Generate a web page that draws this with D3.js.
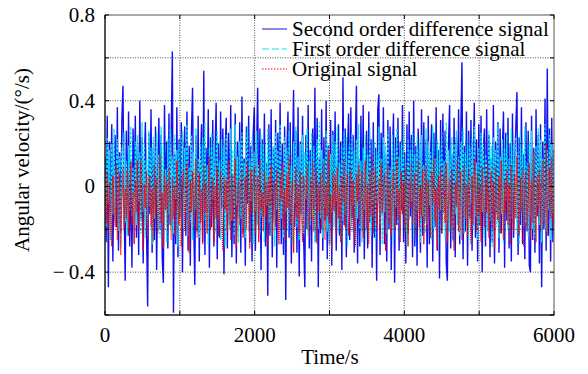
<!DOCTYPE html>
<html>
<head>
<meta charset="utf-8">
<script src="https://cdn.jsdelivr.net/npm/d3@7"></script>
<style>
  body { margin: 0; background: #fff; }
  text { font-family: "Liberation Serif", "Times New Roman", serif; fill: #000; }
</style>
</head>
<body>
<div id="chart"></div>
<script>
// sample spacing of the plotted series (s)
const step = 15;

const secondDiff = [
  0.14, -0.26, 0.33, -0.47, 0.21, -0.12, 0.29, -0.35, 0.08, 0.24, -0.19, 0.37, -0.30, 0.16, -0.22, 0.31, 0.47, -0.09, -0.44, 0.26,
  -0.17, 0.35, -0.28, 0.12, -0.38, 0.27, -0.06, 0.33, -0.24, 0.19, -0.32, 0.40, -0.15, 0.23, -0.36, 0.10, 0.30, -0.21, -0.56, 0.25,
  -0.13, 0.36, -0.31, 0.18, -0.25, 0.28, -0.39, 0.07, 0.32, -0.20, 0.24, -0.34, -0.45, 0.38, -0.11, 0.21, -0.29, 0.34, -0.18, 0.26,
  0.63, -0.59, 0.15, -0.27, 0.37, -0.33, 0.22, -0.14, 0.30, -0.40, 0.11, 0.28, -0.23, 0.35, -0.30, 0.19, -0.37, 0.25, 0.46, -0.16,
  -0.46, 0.24, -0.21, 0.33, -0.35, 0.09, 0.29, -0.26, 0.54, -0.32, 0.18, -0.12, 0.36, -0.38, 0.23, -0.19, 0.31, -0.28, 0.14, 0.39,
  -0.34, 0.20, -0.24, 0.35, -0.10, 0.27, -0.41, 0.17, 0.32, -0.29, 0.25, -0.18, 0.38, -0.33, 0.06, -0.27, 0.34, -0.36, 0.21, -0.15,
  0.30, -0.31, 0.42, -0.22, 0.13, -0.37, 0.28, -0.08, 0.33, -0.26, 0.19, -0.35, 0.24, 0.37, -0.30, 0.16, 0.46, -0.20, 0.27, -0.39,
  0.22, -0.14, 0.34, -0.28, 0.11, -0.51, 0.29, -0.23, 0.36, -0.33, 0.18, -0.17, 0.31, -0.38, 0.25, -0.09, 0.39, -0.27, 0.20, -0.32,
  0.28, -0.53, 0.15, 0.35, -0.24, 0.30, -0.36, 0.12, 0.45, -0.19, 0.26, -0.31, 0.37, -0.42, 0.21, -0.13, 0.33, -0.25, -0.47, 0.24,
  -0.20, 0.38, -0.29, 0.17, -0.35, 0.27, -0.11, 0.46, -0.26, 0.32, -0.47, 0.14, -0.22, 0.36, -0.30, 0.23, -0.16, 0.40, -0.34, 0.19,
  -0.27, 0.31, -0.37, 0.26, -0.12, 0.35, -0.30, 0.08, 0.29, -0.23, 0.21, -0.39, 0.51, -0.18, 0.27, -0.33, 0.16, 0.34, -0.25, 0.37,
  -0.15, 0.24, -0.31, 0.20, 0.47, -0.36, 0.13, -0.28, 0.33, -0.21, 0.38, -0.34, 0.10, 0.26, -0.29, 0.35, -0.17, 0.22, -0.38, 0.30,
  -0.24, 0.18, -0.44, 0.36, 0.43, -0.32, 0.25, -0.13, 0.37, -0.27, 0.15, -0.35, 0.31, -0.20, 0.28, -0.39, 0.12, 0.34, -0.45, 0.23,
  -0.18, 0.32, -0.30, 0.21, -0.11, 0.38, -0.26, 0.16, -0.36, 0.29, -0.22, 0.35, -0.14, 0.24, -0.33, 0.40, -0.28, 0.19, -0.37, 0.27,
  0.09, -0.31, 0.36, -0.23, 0.30, -0.16, 0.22, -0.38, 0.33, -0.27, 0.14, 0.29, -0.35, 0.25, -0.19, 0.37, -0.30, 0.17, -0.43, 0.31,
  -0.22, 0.34, -0.12, 0.26, -0.36, -0.44, 0.20, 0.38, -0.29, 0.15, -0.25, 0.32, -0.33, 0.23, -0.10, 0.36, -0.27, 0.28, 0.58, -0.34,
  0.19, -0.21, 0.35, -0.37, 0.26, -0.15, 0.31, -0.30, 0.12, 0.39, -0.24, 0.22, -0.35, 0.29, -0.18, 0.33, -0.40, 0.16, 0.27, -0.28,
  0.36, -0.19, 0.24, -0.33, 0.13, -0.26, 0.38, -0.36, 0.21, -0.12, 0.30, -0.31, 0.27, -0.22, 0.17, 0.35, -0.38, 0.25, -0.16, 0.32,
  -0.29, 0.20, -0.35, 0.34, -0.24, 0.11, 0.28, 0.44, -0.32, 0.23, -0.18, 0.37, -0.27, 0.15, -0.34, 0.30, -0.21, 0.26, -0.37, -0.40,
  0.33, -0.25, 0.18, -0.31, 0.36, -0.14, 0.24, -0.36, 0.29, -0.47, 0.21, -0.20, 0.41, -0.30, 0.55, -0.23, 0.27, -0.35, 0.32, -0.26,
  0.17
];

const firstDiff = [
  0.10, -0.19, 0.23, -0.08, 0.17, -0.25, 0.20, -0.13, 0.27, -0.16, 0.06, 0.22, -0.21, 0.14, -0.28, 0.18, -0.05, 0.25, -0.17, 0.12,
  -0.23, 0.19, -0.11, 0.28, -0.14, 0.09, -0.26, 0.21, -0.18, 0.24, -0.07, 0.16, -0.22, 0.30, -0.12, 0.20, -0.24, 0.13, -0.16, 0.26,
  -0.09, 0.18, -0.27, 0.23, -0.15, 0.11, 0.25, -0.20, 0.15, -0.24, 0.28, -0.10, 0.19, -0.18, 0.08, -0.26, 0.22, -0.13, 0.27, -0.19,
  0.14, -0.22, 0.24, -0.06, 0.17, -0.28, 0.21, -0.15, 0.11, 0.26, -0.20, 0.18, -0.12, 0.29, -0.23, 0.09, -0.17, 0.24, -0.25, 0.16,
  -0.11, 0.27, -0.19, 0.13, -0.24, 0.20, -0.08, 0.23, -0.16, 0.30, -0.21, 0.10, -0.27, 0.18, -0.14, 0.25, -0.06, 0.21, -0.22, 0.15,
  0.26, -0.18, 0.12, -0.25, 0.22, -0.10, 0.19, -0.28, 0.24, -0.13, 0.08, -0.20, 0.27, -0.16, 0.17, -0.23, 0.29, -0.09, 0.14, -0.26,
  0.21, -0.15, 0.25, -0.19, 0.11, -0.24, 0.18, 0.28, -0.21, 0.13, -0.07, 0.23, -0.27, 0.16, -0.12, 0.26, -0.18, 0.10, -0.22, 0.24,
  -0.14, 0.20, -0.26, 0.15, -0.09, 0.27, -0.17, 0.22, -0.23, 0.12, 0.19, -0.28, 0.25, -0.11, 0.17, -0.20, 0.29, -0.15, 0.08, -0.24,
  0.23, -0.12, 0.18, -0.21, 0.26, -0.16, 0.10, -0.27, 0.21, -0.08, 0.28, -0.19, 0.14, -0.25, 0.20, -0.13, 0.24, -0.22, 0.16, -0.06,
  0.27, -0.23, 0.12, -0.18, 0.25, -0.14, 0.19, -0.26, 0.09, 0.22, -0.20, 0.30, -0.15, 0.17, -0.24, 0.13, -0.10, 0.26, -0.21, 0.18,
  -0.27, 0.15, -0.12, 0.24, -0.19, 0.21, -0.07, 0.28, -0.22, 0.11, -0.25, 0.19, -0.16, 0.26, -0.13, 0.23, -0.28, 0.14, 0.20, -0.18,
  0.25, -0.09, 0.17, -0.24, 0.22, -0.15, 0.29, -0.20, 0.12, -0.26, 0.18, -0.11, 0.24, -0.21, 0.15, -0.17, 0.27, -0.23, 0.10, -0.14,
  0.21, -0.25, 0.16, -0.08, 0.28, -0.18, 0.13, -0.27, 0.23, -0.12, 0.19, -0.22, 0.26, -0.15, 0.09, -0.20, 0.24, -0.26, 0.18, -0.10,
  0.27, -0.17, 0.14, -0.23, 0.20, -0.13, 0.29, -0.21, 0.11, -0.28, 0.22, -0.16, 0.17, -0.07, 0.25, -0.24, 0.15, -0.19, 0.23, -0.12,
  0.18, -0.26, 0.24, -0.14, 0.10, -0.22, 0.27, -0.18, 0.21, -0.09, 0.16, -0.25, 0.28, -0.20, 0.13, -0.15, 0.22, -0.27, 0.19, -0.11,
  0.25, -0.19, 0.12, -0.24, 0.30, -0.16, 0.17, -0.21, 0.08, 0.23, -0.26, 0.20, -0.13, 0.26, -0.18, 0.14, -0.23, 0.21, -0.10, 0.27,
  -0.22, 0.16, -0.15, 0.24, -0.27, 0.19, -0.08, 0.22, -0.20, 0.28, -0.14, 0.11, -0.25, 0.18, -0.17, 0.25, -0.12, 0.20, -0.24, 0.15,
  0.09, -0.21, 0.26, -0.16, 0.19, -0.28, 0.23, -0.11, 0.17, -0.19, 0.29, -0.24, 0.14, -0.13, 0.22, -0.26, 0.18, -0.07, 0.24, -0.20,
  0.13, -0.25, 0.27, -0.15, 0.20, -0.10, 0.23, -0.22, 0.16, -0.27, 0.25, -0.12, 0.18, -0.19, 0.28, -0.17, 0.11, -0.23, 0.21, -0.14,
  0.26, -0.20, 0.15, -0.24, 0.19, -0.09, 0.27, -0.18, 0.22, -0.26, 0.13, -0.16, 0.29, -0.21, 0.17, -0.11, 0.24, -0.25, 0.20, -0.13,
  0.16
];

const original = [
  -0.03, -0.17, 0.07, -0.22, 0.02, -0.13, -0.28, 0.05, -0.09, -0.19, 0.10, -0.25, -0.05, 0.06, -0.32, -0.07, 0.09, -0.20, -0.01, -0.15,
  0.08, -0.23, -0.04, 0.11, -0.18, -0.02, -0.27, 0.03, -0.12, 0.12, -0.21, -0.06, 0.13, -0.16, -0.30, 0.01, -0.10, 0.07, -0.24, -0.04,
  0.05, -0.19, -0.01, -0.26, 0.10, -0.14, 0.04, -0.22, -0.08, 0.15, -0.17, -0.03, -0.29, 0.06, -0.11, 0.02, -0.20, 0.09, -0.07, -0.25,
  0.04, -0.15, 0.00, -0.23, 0.12, -0.09, -0.18, 0.05, -0.28, -0.02, 0.08, -0.21, -0.06, 0.11, -0.14, -0.31, 0.03, -0.12, 0.07, -0.19,
  -0.05, 0.13, -0.24, -0.07, 0.06, -0.17, -0.01, -0.27, 0.10, -0.12, 0.02, -0.22, -0.05, 0.14, -0.20, -0.09, 0.04, -0.26, 0.00, -0.15,
  0.09, -0.23, -0.04, 0.07, -0.18, -0.30, 0.05, -0.11, 0.03, -0.21, 0.12, -0.08, -0.25, 0.06, -0.16, -0.02, 0.13, -0.28, -0.06, 0.04,
  -0.18, -0.01, 0.08, -0.24, -0.10, 0.04, -0.20, 0.11, -0.05, -0.29, 0.08, -0.13, 0.00, 0.09, -0.22, -0.07, 0.05, -0.26, 0.13, -0.11,
  -0.03, -0.21, 0.07, -0.15, 0.02, -0.28, 0.05, -0.09, 0.10, -0.23, -0.04, 0.03, -0.19, 0.08, -0.12, -0.27, 0.06, -0.06, 0.11, -0.20,
  -0.01, -0.25, 0.06, -0.10, 0.14, -0.18, -0.05, 0.03, -0.31, -0.08, 0.09, -0.15, 0.01, -0.22, 0.07, -0.13, -0.26, 0.05, -0.02, -0.19,
  0.10, -0.09, -0.24, 0.04, -0.16, 0.12, -0.21, -0.03, 0.08, -0.27, 0.02, -0.12, 0.06, -0.20, -0.06, 0.11, -0.25, 0.02, -0.14, 0.17,
  -0.17, -0.04, -0.29, 0.07, -0.11, 0.05, -0.22, 0.09, -0.15, 0.00, -0.26, 0.05, -0.08, 0.13, -0.19, -0.02, 0.06, -0.23, -0.13, 0.08,
  -0.21, 0.03, -0.16, -0.28, 0.06, -0.07, 0.10, -0.18, -0.03, 0.07, -0.24, -0.10, 0.12, -0.20, 0.01, -0.27, 0.07, -0.14, 0.15, -0.22,
  -0.05, 0.09, -0.19, -0.08, 0.04, -0.25, 0.11, -0.12, -0.02, 0.06, -0.30, -0.07, 0.10, -0.17, 0.03, -0.23, -0.04, 0.08, -0.20, -0.11,
  0.13, -0.16, -0.01, -0.26, 0.07, -0.13, 0.02, -0.21, 0.09, -0.06, -0.28, 0.04, -0.10, 0.11, -0.18, -0.03, 0.06, -0.24, -0.09, 0.12,
  -0.19, 0.00, -0.14, 0.08, -0.27, -0.05, 0.10, -0.20, 0.03, -0.12, -0.24, 0.07, -0.08, 0.14, -0.16, -0.01, -0.29, 0.05, -0.11, 0.09,
  -0.22, -0.04, 0.06, -0.17, 0.11, -0.26, -0.07, 0.04, -0.19, 0.08, -0.13, -0.30, 0.02, -0.09, 0.12, -0.21, -0.02, 0.07, -0.25, -0.06,
  0.10, -0.15, 0.01, -0.23, 0.08, -0.11, -0.27, 0.05, -0.18, 0.13, -0.04, -0.21, 0.06, -0.14, 0.00, -0.26, 0.09, -0.08, -0.19, 0.04,
  -0.12, 0.11, -0.24, -0.03, 0.07, -0.20, 0.02, -0.29, 0.09, -0.10, -0.16, 0.05, -0.22, 0.12, -0.06, -0.25, 0.03, -0.13, 0.08, -0.18,
  0.01, -0.27, 0.10, -0.09, -0.21, 0.06, -0.15, 0.14, -0.05, -0.23, 0.04, -0.12, 0.09, -0.28, -0.02, 0.07, -0.19, -0.08, 0.11, -0.24,
  0.03, -0.17, 0.16, -0.10, -0.26, 0.05, -0.14, 0.08, -0.21, -0.01, 0.12, -0.18, -0.07, 0.20, -0.23, -0.04, 0.09, -0.15, 0.14, -0.20,
  -0.06
];

const seriesNames = ["Second order difference signal", "First order difference signal", "Original signal"];
const xTicks = [0, 1000, 2000, 3000, 4000, 5000, 6000];
const xLabels = [0, 2000, 4000, 6000];
const yTicks = [-0.6, -0.4, -0.2, 0, 0.2, 0.4, 0.6, 0.8];
const yLabels = [-0.4, 0, 0.4, 0.8];

const W = 588, H = 374;
const svg = d3.select("#chart").append("svg").attr("width", W).attr("height", H);

const x = d3.scaleLinear().domain([0, 6000]).range([105, 554]);
const y = d3.scaleLinear().domain([-0.6, 0.8]).range([315, 15]);

svg.append("clipPath").attr("id", "plot")
  .append("rect").attr("x", 105).attr("y", 15).attr("width", 449).attr("height", 300);

const styles = [
  {color: "#1010f0", dash: null, width: 1.4},
  {color: "#00e8f0", dash: "3,1.5", width: 1.3},
  {color: "#ff0000", dash: "1.2,0.8", width: 1.3}
];

const line = d3.line().x((d, i) => x(i * step)).y(d => y(d));

const plot = svg.append("g").attr("clip-path", "url(#plot)");
[secondDiff, firstDiff, original].forEach((s, k) => {
  plot.append("path")
    .attr("d", line(s))
    .attr("fill", "none")
    .attr("stroke", styles[k].color)
    .attr("stroke-width", styles[k].width)
    .attr("stroke-dasharray", styles[k].dash);
});

// grid (dotted)
const grid = svg.append("g").attr("stroke", "#222").attr("stroke-width", 0.8).attr("stroke-dasharray", "1,1.5");
grid.selectAll(".gx").data(xTicks.slice(1, -1)).join("line")
  .attr("x1", d => x(d)).attr("x2", d => x(d)).attr("y1", 15).attr("y2", 315);
grid.selectAll(".gy").data(yTicks.slice(1, -1)).join("line")
  .attr("x1", 105).attr("x2", 554).attr("y1", d => y(d)).attr("y2", d => y(d));

// box
svg.append("rect").attr("x", 105).attr("y", 15).attr("width", 449).attr("height", 300)
  .attr("fill", "none").attr("stroke", "#555").attr("stroke-width", 1);
svg.append("line").attr("x1", 105).attr("x2", 105).attr("y1", 15).attr("y2", 315).attr("stroke", "#000");
svg.append("line").attr("x1", 105).attr("x2", 554).attr("y1", 315).attr("y2", 315).attr("stroke", "#000");

// inward ticks
const tk = svg.append("g").attr("stroke", "#000").attr("stroke-width", 1);
xTicks.forEach(d => {
  tk.append("line").attr("x1", x(d)).attr("x2", x(d)).attr("y1", 315).attr("y2", 311);
  tk.append("line").attr("x1", x(d)).attr("x2", x(d)).attr("y1", 15).attr("y2", 19);
});
yTicks.forEach(d => {
  tk.append("line").attr("x1", 105).attr("x2", 109).attr("y1", y(d)).attr("y2", y(d));
  tk.append("line").attr("x1", 554).attr("x2", 550).attr("y1", y(d)).attr("y2", y(d));
});

// tick labels
svg.selectAll(".xl").data(xLabels).join("text")
  .attr("x", d => x(d)).attr("y", 342).attr("text-anchor", "middle")
  .attr("font-size", 21).text(d => d);
svg.selectAll(".yl").data(yLabels).join("text")
  .attr("x", 95).attr("y", d => y(d) + 7).attr("text-anchor", "end")
  .attr("font-size", 21).text(d => d < 0 ? "\u2212\u2009" + Math.abs(d) : d);

// axis titles
svg.append("text").attr("x", 330).attr("y", 364).attr("text-anchor", "middle")
  .attr("font-size", 21).text("Time/s");
svg.append("text").attr("transform", "translate(29,160) rotate(-90)").attr("text-anchor", "middle")
  .attr("font-size", 21).text("Angular velocity/(\u00b0/s)");

// legend
const lg = svg.append("g");
seriesNames.forEach((name, k) => {
  const yy = 29 + k * 20;
  lg.append("line").attr("x1", 262).attr("x2", 287).attr("y1", yy).attr("y2", yy)
    .attr("stroke", styles[k].color).attr("stroke-width", 1)
    .attr("stroke-dasharray", k === 0 ? null : (k === 1 ? "7,3" : "1.5,1.5"));
  lg.append("text").attr("x", 292).attr("y", yy + 7).attr("font-size", 21).text(name);
});
</script>
</body>
</html>
